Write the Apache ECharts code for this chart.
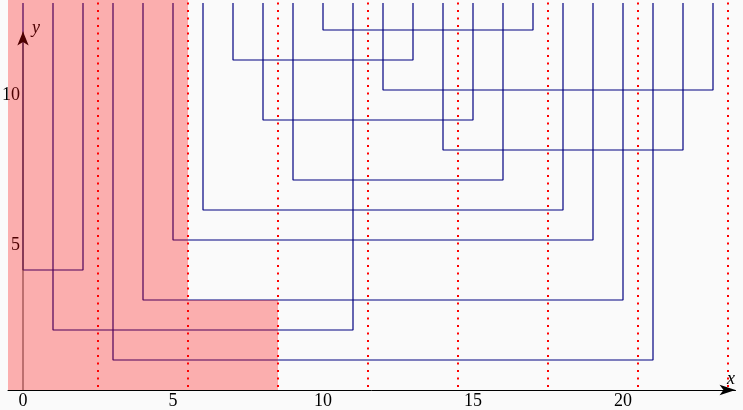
<!DOCTYPE html>
<html>
<head>
<meta charset="utf-8">
<script src="https://cdn.jsdelivr.net/npm/echarts@6/dist/echarts.min.js"></script>
<style>html,body{margin:0;padding:0;background:#fafafa}#c{width:743px;height:410px}</style>
</head>
<body>
<div id="c"></div>
<script>
// ---- data ----
const xTickValues = [0, 5, 10, 15, 20];
const yTickValues = [5, 10];
const stapleLeft  = [0, 1, 3, 4, 5, 6, 9, 14, 8, 12, 7, 10];
const stapleRight = [2, 11, 21, 20, 19, 18, 16, 22, 15, 23, 13, 17];
const stapleLevel = [4, 2, 1, 3, 5, 6, 7, 8, 9, 10, 11, 12];
const stapleTop = 12.9;
const dividerX = [2.5, 5.5, 8.5, 11.5, 14.5, 17.5, 20.5, 23.5];
const dividerBottom = 0.1;
const dividerTop = 13;
const shadeX0 = [-0.5, 5.5];
const shadeX1 = [5.5, 8.5];
const shadeY1 = [13, 3];
const yArrowTop = 11.95;

// ---- chart ----
const FONT = 'Liberation Serif';
const series = [];
for (let i = 0; i < stapleLeft.length; i++) {
  series.push({
    type: 'line', silent: true, showSymbol: false, animation: false, z: 2,
    data: [[stapleLeft[i], stapleTop], [stapleLeft[i], stapleLevel[i]],
           [stapleRight[i], stapleLevel[i]], [stapleRight[i], stapleTop]],
    lineStyle: { color: '#000080', width: 1.2 }
  });
}
// y axis arrow line
series.push({
  type: 'line', silent: true, animation: false, z: 2,
  data: [{ value: [0, 0], symbol: 'none' },
         { value: [0, yArrowTop], symbol: 'arrow', symbolSize: [8.5, 14] }],
  showSymbol: true,
  itemStyle: { color: '#000' },
  lineStyle: { color: '#444', width: 1 }
});
// shaded blocks
series.push({
  type: 'custom', silent: true, animation: false, z: 5,
  data: shadeX0.map((x0, i) => [x0, 0, shadeX1[i], shadeY1[i]]),
  encode: { x: [0, 2], y: [1, 3] },
  renderItem: function (params, api) {
    const p0 = api.coord([api.value(0), api.value(3)]);
    const p1 = api.coord([api.value(2), api.value(1)]);
    return {
      type: 'rect',
      shape: { x: p0[0], y: p0[1], width: p1[0] - p0[0], height: p1[1] - p0[1] },
      style: { fill: 'rgba(255,0,0,0.3)' }
    };
  }
});
// dotted dividers
dividerX.forEach(x => {
  series.push({
    type: 'line', silent: true, showSymbol: false, animation: false, z: 6,
    data: [[x, dividerBottom], [x, dividerTop]],
    lineStyle: { color: '#ff0000', width: 2, type: [2, 5.5] }
  });
});

const chart = echarts.init(document.getElementById('c'), null, { renderer: 'canvas' });
chart.setOption({
  backgroundColor: '#fafafa',
  animation: false,
  grid: { left: 8, right: 7.5, top: 0, bottom: 20, containLabel: false, outerBoundsMode: 'none' },
  xAxis: {
    type: 'value', min: -0.5, max: 23.75,
    splitLine: { show: false },
    axisTick: { show: false },
    axisLine: { show: true, onZero: false, symbol: ['none', 'arrow'], symbolSize: [8, 16],
                lineStyle: { color: '#000', width: 1 } },
    axisLabel: { customValues: xTickValues, fontFamily: FONT, fontSize: 18, color: '#000', margin: 2 },
    name: 'x', nameLocation: 'end', nameGap: -4.5,
    nameTextStyle: { fontFamily: FONT, fontStyle: 'italic', fontSize: 18, color: '#000',
                     align: 'center', verticalAlign: 'bottom', padding: [0, 0, 2, 0] }
  },
  yAxis: {
    type: 'value', min: 0, max: 13,
    offset: -15,
    splitLine: { show: false },
    axisTick: { show: false },
    axisLine: { show: true, onZero: false, lineStyle: { opacity: 0 } },
    axisLabel: { customValues: yTickValues, fontFamily: FONT, fontSize: 18, color: '#000', margin: 3,
                 verticalAlign: 'top', lineHeight: 10 },
    name: 'y', nameLocation: 'end', nameGap: -28,
    nameTextStyle: { fontFamily: FONT, fontStyle: 'italic', fontSize: 18, color: '#000',
                     align: 'left', verticalAlign: 'middle', padding: [0, 0, 0, 9] }
  },
  series: series
});
</script>
</body>
</html>
